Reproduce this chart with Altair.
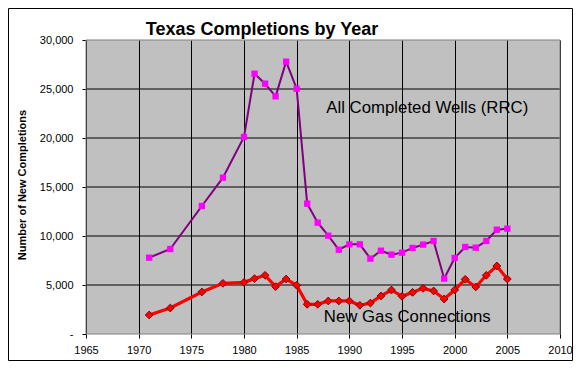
import altair as alt
import pandas as pd

years_all = [1971, 1973, 1976, 1978, 1980, 1981, 1982, 1983, 1984, 1985, 1986, 1987, 1988,
             1989, 1990, 1991, 1992, 1993, 1994, 1995, 1996, 1997, 1998, 1999, 2000, 2001,
             2002, 2003, 2004, 2005]
all_wells = [7790, 8670, 13060, 15950, 20100, 26560, 25540, 24250, 27790, 25030, 13300, 11360,
             10030, 8600, 9150, 9150, 7690, 8500, 8100, 8300, 8780, 9120, 9490, 5650, 7760,
             8880, 8810, 9490, 10640, 10750]
gas_conn = [1940, 2650, 4290, 5170, 5270, 5650, 5990, 4830, 5610, 4970, 3030, 3030, 3370,
            3370, 3370, 2930, 3160, 3880, 4490, 3840, 4250, 4660, 4390, 3570, 4490, 5580,
            4800, 5990, 6940, 5610]

x_ticks = [1965, 1970, 1975, 1980, 1985, 1990, 1995, 2000, 2005, 2010]
y_ticks = [0, 5000, 10000, 15000, 20000, 25000, 30000]
y_grid = [5000, 10000, 15000, 20000, 25000]

title_text = "Texas Completions by Year"
y_title = "Number of New Completions"
label_years = [1997.4, 1995.5]
label_values = [23100, 1750]
label_texts = ["All Completed Wells (RRC)", "New Gas Connections"]

df = pd.DataFrame({"year": years_all, "all": all_wells, "gas": gas_conn})
labels = pd.DataFrame({"year": label_years, "value": label_values, "text": label_texts})
grid_df = pd.DataFrame({"value": y_grid})

FONT = "Liberation Sans"
W, H = 474, 294
PL, PR, PT, PB = 78, 13, 32, 27

x_axis = alt.Axis(values=x_ticks, format="d", title=None, domain=False,
                  grid=True, gridColor="black", gridWidth=1, labelFlush=False,
                  tickColor="black", tickSize=4, labelPadding=6,
                  labelFont=FONT, labelFontSize=11, labelColor="black")
y_axis = alt.Axis(values=y_ticks, title=None, domain=False, grid=False,
                  tickColor="black", tickSize=4, labelPadding=9, labelFlush=False,
                  labelFont=FONT, labelFontSize=11, labelColor="black",
                  labelExpr="datum.value == 0 ? '-\u00a0\u00a0\u00a0\u00a0' : format(datum.value, ',')")
xsc = alt.Scale(domain=[1965, 2010], nice=False, zero=False)
ysc = alt.Scale(domain=[0, 30000], nice=False)


def X(field):
    return alt.X(field, scale=xsc, axis=x_axis)


def Y(field):
    return alt.Y(field, scale=ysc, axis=y_axis)


hgrid = alt.Chart(grid_df).mark_rule(color="black", strokeWidth=1).encode(y=Y("value:Q"))

base = alt.Chart(df)
purple_line = base.mark_line(color="#800080", strokeWidth=2).encode(x=X("year:Q"), y=Y("all:Q"))
purple_pts = base.mark_square(size=40, color="#FF00FF", opacity=1).encode(x=X("year:Q"), y=Y("all:Q"))
red_line = base.mark_line(color="#FF0000", strokeWidth=3.2).encode(x=X("year:Q"), y=Y("gas:Q"))
red_pts = base.mark_point(shape="diamond", size=60, filled=True, fill="#FF0000",
                          stroke="#800000", strokeWidth=1, opacity=1).encode(x=X("year:Q"), y=Y("gas:Q"))

txt = alt.Chart(labels).mark_text(font=FONT, fontSize=16.8, color="black",
                                  baseline="middle", align="center").encode(
    x=X("year:Q"), y=Y("value:Q"), text="text:N")

ttl = alt.Chart(pd.DataFrame({"t": [title_text]})).mark_text(
    font=FONT, fontSize=18, fontWeight="bold", color="black", align="center",
    baseline="alphabetic").encode(x=alt.value(176), y=alt.value(-5), text="t:N")

ytl = alt.Chart(pd.DataFrame({"t": [y_title]})).mark_text(
    font=FONT, fontSize=11, fontWeight="bold", color="black", align="center",
    baseline="middle", angle=270).encode(x=alt.value(-63), y=alt.value(145), text="t:N")

border = alt.Chart(pd.DataFrame({"a": [0]})).mark_rect(
    fillOpacity=0, stroke="#808080", strokeWidth=1).encode(
    x=alt.value(0), x2=alt.value(W), y=alt.value(0), y2=alt.value(H))

outer = alt.Chart(pd.DataFrame({"a": [0]})).mark_rect(
    fillOpacity=0, stroke="black", strokeWidth=1).encode(
    x=alt.value(-PL + 0.5), x2=alt.value(W + PR - 0.5),
    y=alt.value(-PT + 0.5), y2=alt.value(H + PB - 0.5))

chart = alt.layer(hgrid, purple_line, purple_pts, red_line, red_pts, txt, ttl, ytl, border, outer).properties(
    width=W, height=H,
    autosize=alt.AutoSizeParams(type="none"),
    padding={"left": PL, "top": PT, "right": PR, "bottom": PB},
    background="white",
).configure_view(fill="#C0C0C0", stroke=None)

chart.save("out.html", embed_options={"renderer": "svg", "actions": False})
